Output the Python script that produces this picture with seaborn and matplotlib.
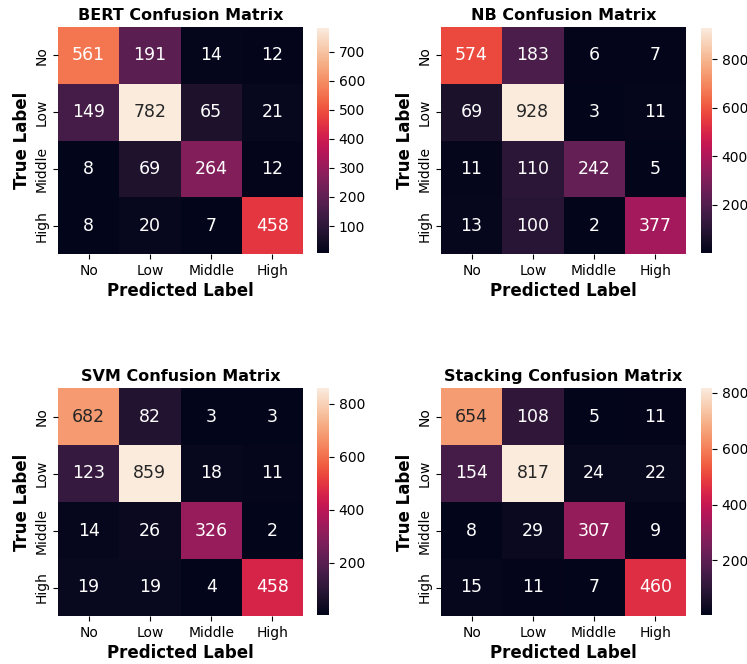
import numpy as np
import matplotlib
matplotlib.use("Agg")
import matplotlib.pyplot as plt
import seaborn as sns

labels = ["No", "Low", "Middle", "High"]

bert = [[561, 191, 14, 12],
        [149, 782, 65, 21],
        [8, 69, 264, 12],
        [8, 20, 7, 458]]
nb = [[574, 183, 6, 7],
      [69, 928, 3, 11],
      [11, 110, 242, 5],
      [13, 100, 2, 377]]
svm = [[682, 82, 3, 3],
       [123, 859, 18, 11],
       [14, 26, 326, 2],
       [19, 19, 4, 458]]
stacking = [[654, 108, 5, 11],
            [154, 817, 24, 22],
            [8, 29, 307, 9],
            [15, 11, 7, 460]]

titles = ["BERT Confusion Matrix", "NB Confusion Matrix",
          "SVM Confusion Matrix", "Stacking Confusion Matrix"]
mats = [bert, nb, svm, stacking]

W, H = 747, 664
fig = plt.figure(figsize=(W / 100, H / 100), dpi=100)

# pixel boxes: (left, top, width, height) for heatmap and colorbar
hm_boxes = [(58, 27, 245, 227), (441, 27, 245, 227),
            (58, 388, 245, 228), (441, 388, 245, 228)]
cb_boxes = [(317, 28, 12, 225), (701, 28, 11, 225),
            (317, 388, 12, 227), (701, 388, 11, 227)]

def frac(b):
    l, t, w, h = b
    return [l / W, 1 - (t + h) / H, w / W, h / H]

for m, title, hb, cb in zip(mats, titles, hm_boxes, cb_boxes):
    ax = fig.add_axes(frac(hb))
    cax = fig.add_axes(frac(cb))
    sns.heatmap(np.array(m), annot=True, fmt="d", ax=ax, cbar_ax=cax,
                xticklabels=labels, yticklabels=labels,
                annot_kws={"fontsize": 12.5})
    ax.set_title(title, fontsize=11.5, fontweight="bold", pad=5)
    ax.set_xlabel("Predicted Label", fontsize=12, fontweight="bold", labelpad=3)
    ax.set_ylabel("True Label", fontsize=12, fontweight="bold", labelpad=2)
    ax.tick_params(labelsize=10)
    cax.tick_params(labelsize=10)

fig.savefig("out.png", dpi=100)
